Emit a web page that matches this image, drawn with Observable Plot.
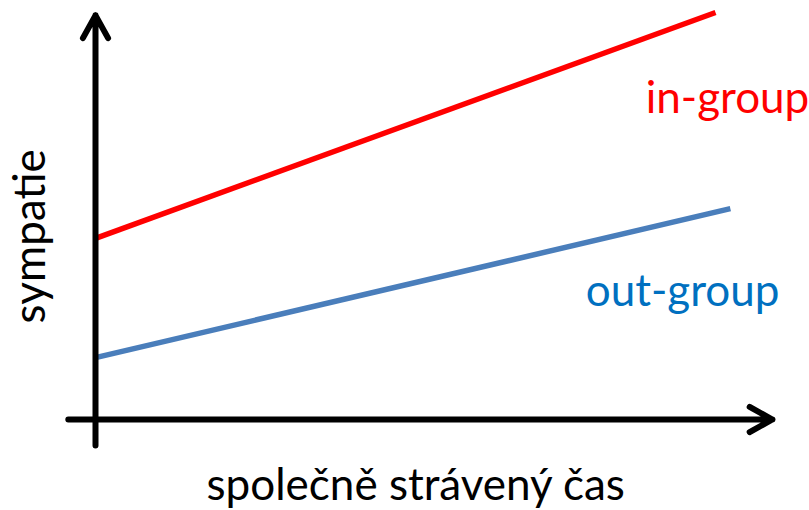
<!DOCTYPE html>
<html>
<head>
<meta charset="utf-8">
<script src="https://cdn.jsdelivr.net/npm/d3@7"></script>
<script src="https://cdn.jsdelivr.net/npm/@observablehq/plot@0.6"></script>
<style>
  html, body { margin: 0; padding: 0; background: #fff; }
  #chart svg { display: block; }
</style>
</head>
<body>
<div id="chart"></div>
<script>
// Series (schematic lines: sympathy vs. time spent together)
const series = ["in-group", "out-group"];
const seriesColors = ["#ff0000", "#4a7ebb"];
const labelColors = ["#ff0000", "#0070c0"];
const startTime = [0, 0];
const startValue = [4.45, 1.52];
const endTime = [10.03, 10.27];
const endValue = [10.0, 5.18];
// label anchor positions (data units)
const labelTime = [8.9, 7.93];
const labelValue = [7.54, 2.8];

// axis titles
const xTitle = "společně strávený čas";
const yTitle = "sympatie";

// axis extents (data units)
const xAxisFrom = -0.44, xAxisTo = 10.95;
const yAxisFrom = -0.64, yAxisTo = 9.93;

const lines = series.map((s, i) => ({
  name: s, x1: startTime[i], y1: startValue[i], x2: endTime[i], y2: endValue[i],
  color: seriesColors[i], labelColor: labelColors[i], lx: labelTime[i], ly: labelValue[i]
}));

const axes = [
  {x1: xAxisFrom, y1: 0, x2: xAxisTo, y2: 0},
  {x1: 0, y1: yAxisFrom, x2: 0, y2: yAxisTo}
];

const font = "Lato, 'Open Sans', sans-serif";

const chart = Plot.plot({
  width: 809,
  height: 510,
  x: {domain: [0, 11], range: [95, 775], axis: null},
  y: {domain: [0, 10], range: [419, 12], axis: null},
  style: {fontFamily: font, background: "#fff"},
  marks: [
    Plot.link(lines, {x1: "x1", y1: "y1", x2: "x2", y2: "y2", stroke: d => d.color, strokeWidth: 5.5}),
    Plot.arrow(axes, {x1: "x1", y1: "y1", x2: "x2", y2: "y2", stroke: "#000", strokeWidth: 6,
      headLength: 6.5, headAngle: 58, strokeLinecap: "round", strokeLinejoin: "round"}),
    Plot.text(lines, {x: "lx", y: "ly", text: "name", fill: d => d.labelColor,
      textAnchor: "start", lineAnchor: "bottom", fontSize: 44, fontFamily: font}),
    Plot.text([xTitle], {x: 5.18, y: -1.99, text: d => d, fill: "#000",
      textAnchor: "middle", lineAnchor: "bottom", fontSize: 44, fontFamily: font}),
    Plot.text([yTitle], {x: -1.05, y: 4.5, text: d => d, fill: "#000", rotate: -90,
      textAnchor: "middle", lineAnchor: "middle", fontSize: 44, fontFamily: font})
  ]
});
document.getElementById("chart").appendChild(chart);
</script>
</body>
</html>
